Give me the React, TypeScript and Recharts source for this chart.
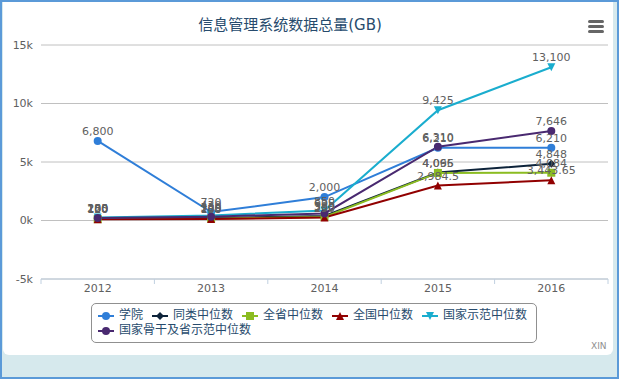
import React from "react";
import {
  LineChart,
  Line,
  XAxis,
  YAxis,
  CartesianGrid,
  LabelList,
} from "recharts";

// categories and series values
const years = ["2012", "2013", "2014", "2015", "2016"];
const college = [6800, 720, 2000, 6210, 6210];
const sameType = [180, 205, 380, 4096, 4848];
const province = [120, 160, 300, 4065, 4084];
const national = [100, 130, 250, 2984.5, 3443.65];
const demo = [250, 430, 850, 9425, 13100];
const backbone = [205, 330, 605, 6310, 7646];
const yTicks = [-5000, 0, 5000, 10000, 15000];

const series = [
  { key: "college", name: "学院", values: college, color: "#2f7ed8", shape: "circle" },
  { key: "sameType", name: "同类中位数", values: sameType, color: "#0d233a", shape: "diamond" },
  { key: "province", name: "全省中位数", values: province, color: "#8bbc21", shape: "square" },
  { key: "national", name: "全国中位数", values: national, color: "#910000", shape: "triangle" },
  { key: "demo", name: "国家示范中位数", values: demo, color: "#1aadce", shape: "triangle-down" },
  { key: "backbone", name: "国家骨干及省示范中位数", values: backbone, color: "#492970", shape: "circle" },
];

const data = years.map((year, i) => {
  const row: any = { year };
  series.forEach((s) => (row[s.key] = s.values[i]));
  return row;
});

const W = 619;
const H = 379;
const PLOT_LEFT = 41;
const PLOT_RIGHT = 608;
const HALF_BAND = (PLOT_RIGHT - PLOT_LEFT) / years.length / 2;

const font = '"DejaVu Sans", Verdana, "Noto Sans CJK SC", sans-serif';

function markerShape(shape: string, cx: number, cy: number, color: string, key?: any) {
  const r = 4;
  if (shape === "diamond")
    return <polygon key={key} points={`${cx},${cy - r} ${cx + r},${cy} ${cx},${cy + r} ${cx - r},${cy}`} fill={color} />;
  if (shape === "square")
    return <rect key={key} x={cx - r} y={cy - r} width={2 * r} height={2 * r} fill={color} />;
  if (shape === "triangle")
    return <polygon key={key} points={`${cx},${cy - r} ${cx + r},${cy + r} ${cx - r},${cy + r}`} fill={color} />;
  if (shape === "triangle-down")
    return <polygon key={key} points={`${cx - r},${cy - r} ${cx + r},${cy - r} ${cx},${cy + r}`} fill={color} />;
  return <circle key={key} cx={cx} cy={cy} r={r} fill={color} />;
}

const XTick = (props: any) => {
  const { x, y, payload, index } = props;
  const last = index === years.length - 1;
  return (
    <g>
      <line x1={x - HALF_BAND} y1={y} x2={x - HALF_BAND} y2={y + 5} stroke="#C0D0E0" />
      {last && <line x1={x + HALF_BAND} y1={y} x2={x + HALF_BAND} y2={y + 5} stroke="#C0D0E0" />}
      <text x={x} y={y + 13} textAnchor="middle" fontSize={11} fill="#606060">
        {payload.value}
      </text>
    </g>
  );
};

const fmt = (v: any) => Number(v).toLocaleString("en-US", { maximumFractionDigits: 2 });

const LegendItem = ({ s }: any) => (
  <span style={{ display: "inline-flex", alignItems: "center", marginRight: 9, height: 15 }}>
    <svg width={16} height={10} style={{ marginRight: 5 }}>
      <line x1={0} y1={5} x2={16} y2={5} stroke={s.color} strokeWidth={2} />
      {markerShape(s.shape, 8, 5, s.color)}
    </svg>
    <span>{s.name}</span>
  </span>
);

export default function App() {
  return (
    <div style={{ position: "absolute", left: 0, top: 0, width: W, height: H, background: "#d6e9ed", overflow: "hidden", fontFamily: font }}>
      {/* window frame */}
      <div style={{ position: "absolute", left: 0, top: 0, width: W, height: 2, background: "#5b9ad8" }} />
      <div style={{ position: "absolute", left: 0, top: 0, width: 2, height: H, background: "#5b9ad8" }} />
      <div style={{ position: "absolute", left: 617, top: 0, width: 2, height: H, background: "#5b9ad8" }} />
      <div style={{ position: "absolute", left: 0, top: 377, width: W, height: 2, background: "#5b9ad8" }} />
      <div style={{ position: "absolute", left: 3, top: 2, width: 610, height: 353, background: "#fff", borderRadius: "0 0 6px 6px" }} />

      <div style={{ position: "absolute", left: 0, top: 0 }}>
        <LineChart width={W} height={H} data={data} margin={{ top: 45, right: W - PLOT_RIGHT, bottom: 70, left: 0 }}>
          <CartesianGrid vertical={false} stroke="#C0C0C0" />
          <XAxis
            dataKey="year"
            height={30}
            padding={{ left: HALF_BAND, right: HALF_BAND }}
            axisLine={{ stroke: "#C0D0E0" }}
            tickLine={false}
            tickSize={0}
            tickMargin={0}
            tick={<XTick />}
            interval={0}
          />
          <YAxis
            width={PLOT_LEFT}
            domain={[-5000, 15000]}
            ticks={yTicks}
            axisLine={false}
            tickLine={false}
            tickSize={0}
            tickMargin={8}
            tick={{ fontSize: 11, fill: "#606060" }}
            tickFormatter={(v) => `${v / 1000}k`}
          />
          {series.map((s) => (
            <Line
              key={s.key}
              dataKey={s.key}
              name={s.name}
              type="linear"
              stroke={s.color}
              strokeWidth={2}
              isAnimationActive={false}
              activeDot={false}
              dot={(p: any) => markerShape(s.shape, p.cx, p.cy, s.color, p.key)}
            >
              <LabelList dataKey={s.key} position="top" offset={6} fontSize={11} fill="#606060" formatter={fmt} />
            </Line>
          ))}
        </LineChart>
      </div>

      {/* title */}
      <div style={{ position: "absolute", left: 0, top: 13, width: 580, textAlign: "center", fontSize: 15, color: "#274b6d" }}>
        信息管理系统数据总量(GB)
      </div>

      {/* menu icon */}
      {[20, 25, 30].map((t) => (
        <div key={t} style={{ position: "absolute", left: 588, top: t, width: 16, height: 3, borderRadius: 1.5, background: "#666" }} />
      ))}

      {/* legend */}
      <div
        style={{
          position: "absolute",
          left: 91,
          top: 303,
          width: 438,
          height: 34,
          border: "1px solid #909090",
          borderRadius: 5,
          padding: "4px 0 0 6px",
          fontSize: 12,
          color: "#274b6d",
          lineHeight: "15px",
          boxSizing: "content-box",
        }}
      >
        <div style={{ display: "flex" }}>
          {series.slice(0, 5).map((s) => (
            <LegendItem key={s.key} s={s} />
          ))}
        </div>
        <div style={{ display: "flex" }}>
          <LegendItem s={series[5]} />
        </div>
      </div>

      <div style={{ position: "absolute", left: 591, top: 341, fontSize: 9, color: "#909090" }}>XIN</div>
    </div>
  );
}
